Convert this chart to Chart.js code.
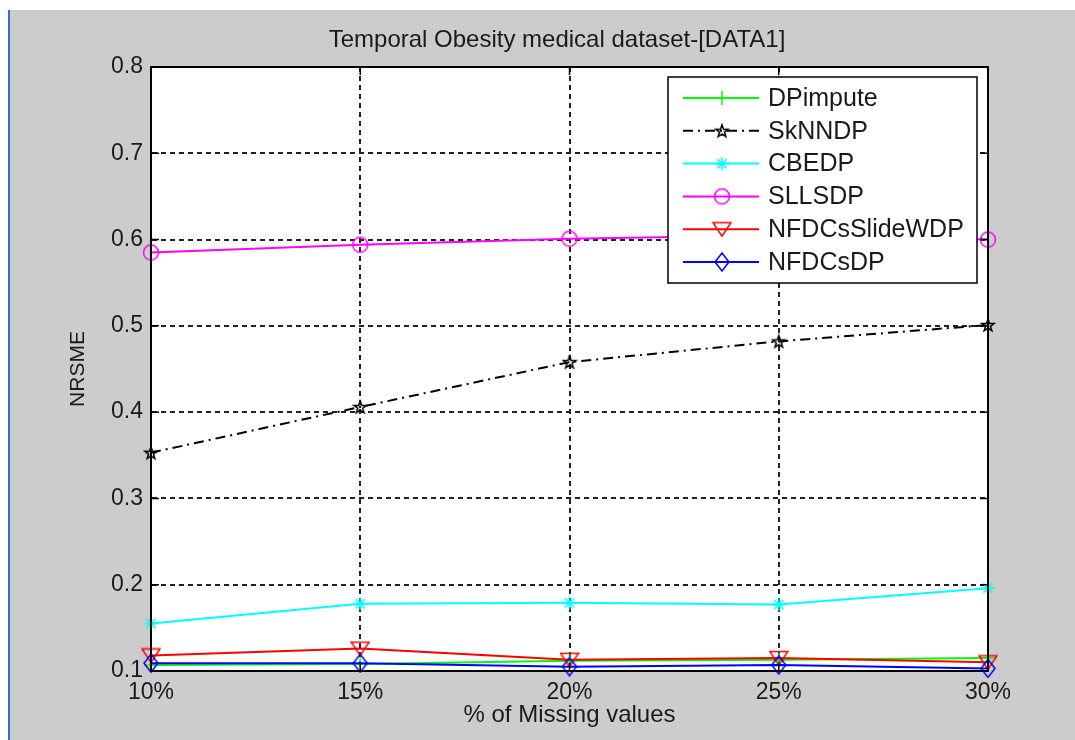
<!DOCTYPE html>
<html>
<head>
<meta charset="utf-8">
<script src="https://cdn.jsdelivr.net/npm/chart.js@4.4.0/dist/chart.umd.min.js"></script>
<style>
  html, body { margin: 0; padding: 0; background: #fff; }
  #wrap { width: 1075px; height: 740px; }
</style>
</head>
<body>
<div id="wrap"><canvas id="nrsme-chart" width="1075" height="740"></canvas></div>
<script>
// Values
const missingLabels = ['10%', '15%', '20%', '25%', '30%'];
const dpImpute      = [0.107, 0.108, 0.112, 0.113, 0.115];
const skNNDP        = [0.353, 0.406, 0.458, 0.482, 0.501];
const cbeDP         = [0.155, 0.178, 0.179, 0.177, 0.196];
const sllsDP        = [0.585, 0.594, 0.601, 0.605, 0.600];
const nfdcsSlideWDP = [0.118, 0.126, 0.113, 0.115, 0.110];
const nfdcsDP       = [0.109, 0.109, 0.105, 0.107, 0.103];
const yTickValues   = [0.1, 0.2, 0.3, 0.4, 0.5, 0.6, 0.7, 0.8];

const FONT = "'Liberation Sans', Arial, sans-serif";

// small canvases used as MATLAB-like markers
function makeMarker(w, h, color, draw) {
  const c = document.createElement('canvas');
  c.width = w;
  c.height = h;
  const g = c.getContext('2d');
  g.strokeStyle = color;
  g.lineWidth = 1.5;
  g.beginPath();
  draw(g, w, h);
  g.stroke();
  return c;
}

const plusMarker = makeMarker(16, 16, '#00ff00', (g) => {
  g.moveTo(8, 1); g.lineTo(8, 15);
  g.moveTo(1, 8); g.lineTo(15, 8);
});

const starMarker = makeMarker(16, 16, '#000000', (g) => {
  for (let i = 0; i < 10; i++) {
    const r = i % 2 === 0 ? 6.5 : 2.6;
    const a = -Math.PI / 2 + i * Math.PI / 5;
    const px = 8 + r * Math.cos(a), py = 8.5 + r * Math.sin(a);
    if (i === 0) g.moveTo(px, py); else g.lineTo(px, py);
  }
  g.closePath();
});

const asteriskMarker = makeMarker(16, 16, '#00ffff', (g) => {
  for (let i = 0; i < 4; i++) {
    const a = i * Math.PI / 4;
    g.moveTo(8 - 6.5 * Math.cos(a), 8 - 6.5 * Math.sin(a));
    g.lineTo(8 + 6.5 * Math.cos(a), 8 + 6.5 * Math.sin(a));
  }
});

const circleMarker = makeMarker(20, 20, '#ff00ff', (g) => {
  g.arc(10, 10, 7.5, 0, Math.PI * 2);
});

const triangleMarker = makeMarker(20, 16, '#ff0000', (g) => {
  g.moveTo(1, 1.5); g.lineTo(19, 1.5); g.lineTo(10, 15); g.closePath();
});

const diamondMarker = makeMarker(16, 20, '#0000ff', (g) => {
  g.moveTo(8, 1); g.lineTo(15, 10); g.lineTo(8, 19); g.lineTo(1, 10); g.closePath();
});

function series(label, data, color, marker, dash, order) {
  return {
    label: label,
    data: data,
    borderColor: color,
    backgroundColor: color,
    borderWidth: 2,
    borderDash: dash,
    pointStyle: marker,
    pointRadius: 8,
    pointHoverRadius: 8,
    tension: 0,
    fill: false,
    clip: false,
    order: order
  };
}

const datasets = [
  series('DPimpute', dpImpute, '#00ff00', plusMarker, [], 5),
  series('SkNNDP', skNNDP, '#000000', starMarker, [10, 5, 2, 5], 4),
  series('CBEDP', cbeDP, '#00ffff', asteriskMarker, [], 3),
  series('SLLSDP', sllsDP, '#ff00ff', circleMarker, [], 2),
  series('NFDCsSlideWDP', nfdcsSlideWDP, '#ff0000', triangleMarker, [], 1),
  series('NFDCsDP', nfdcsDP, '#0000ff', diamondMarker, [], 0)
];

// figure background, white axes face, title
const figureBackground = {
  id: 'figureBackground',
  beforeDraw(chart) {
    const ctx = chart.ctx;
    const a = chart.chartArea;
    ctx.save();
    ctx.fillStyle = '#ffffff';
    ctx.fillRect(0, 0, chart.width, chart.height);
    ctx.fillStyle = '#cccccc';
    ctx.fillRect(10, 10, chart.width - 10, chart.height - 10);
    ctx.fillStyle = '#2f72c8';
    ctx.fillRect(8, 10, 2, chart.height - 10);
    ctx.fillStyle = '#ffffff';
    ctx.fillRect(a.left, a.top, a.right - a.left, a.bottom - a.top);
    ctx.restore();
  },
  afterDraw(chart) {
    const ctx = chart.ctx;
    ctx.save();
    ctx.fillStyle = '#1a1a1a';
    ctx.font = '24px ' + FONT;
    ctx.textAlign = 'center';
    ctx.textBaseline = 'middle';
    ctx.fillText('Temporal Obesity medical dataset-[DATA1]', 557, 40);
    ctx.restore();
  }
};

// box around the axes plus inward tick marks on all four sides
const axesBox = {
  id: 'axesBox',
  afterDatasetsDraw(chart) {
    const ctx = chart.ctx;
    const a = chart.chartArea;
    const xs = chart.scales.x, ys = chart.scales.y;
    const len = 8;
    ctx.save();
    ctx.strokeStyle = '#000';
    ctx.lineWidth = 1.5;
    ctx.beginPath();
    xs.ticks.forEach((t, i) => {
      const px = xs.getPixelForTick(i);
      ctx.moveTo(px, a.bottom); ctx.lineTo(px, a.bottom - len);
      ctx.moveTo(px, a.top); ctx.lineTo(px, a.top + len);
    });
    ys.ticks.forEach((t, i) => {
      const py = ys.getPixelForTick(i);
      ctx.moveTo(a.left, py); ctx.lineTo(a.left + len, py);
      ctx.moveTo(a.right, py); ctx.lineTo(a.right - len, py);
    });
    ctx.stroke();
    ctx.lineWidth = 2;
    ctx.strokeRect(a.left, a.top, a.right - a.left, a.bottom - a.top);
    ctx.restore();
  }
};

// legend box inside the upper right of the axes
const insideLegend = {
  id: 'insideLegend',
  afterDraw(chart) {
    const ctx = chart.ctx;
    const a = chart.chartArea;
    const w = 309, h = 206;
    const left = a.right - 11 - w, top = a.top + 10;
    ctx.save();
    ctx.fillStyle = '#ffffff';
    ctx.fillRect(left, top, w, h);
    ctx.strokeStyle = '#000';
    ctx.lineWidth = 1.5;
    ctx.strokeRect(left, top, w, h);
    ctx.font = '25px ' + FONT;
    ctx.textBaseline = 'middle';
    ctx.textAlign = 'left';
    chart.data.datasets.forEach((ds, i) => {
      const y = top + 21 + i * 32.8;
      ctx.save();
      ctx.strokeStyle = ds.borderColor;
      ctx.lineWidth = 2;
      ctx.setLineDash(ds.borderDash || []);
      ctx.beginPath();
      ctx.moveTo(left + 15, y);
      ctx.lineTo(left + 91, y);
      ctx.stroke();
      ctx.restore();
      const m = ds.pointStyle;
      ctx.drawImage(m, left + 54 - m.width / 2, y - m.height / 2);
      ctx.fillStyle = '#1a1a1a';
      ctx.fillText(ds.label, left + 100, y + 1);
    });
    ctx.restore();
  }
};

new Chart(document.getElementById('nrsme-chart'), {
  type: 'line',
  data: {
    labels: missingLabels,
    datasets: datasets
  },
  options: {
    responsive: false,
    animation: false,
    events: [],
    layout: {
      padding: { top: 67, right: 87, bottom: 0, left: 0 }
    },
    plugins: {
      legend: { display: false },
      tooltip: { enabled: false },
      title: { display: false }
    },
    scales: {
      x: {
        offset: false,
        afterFit: (scale) => { scale.height = 69; },
        grid: {
          color: '#222',
          lineWidth: 2,
          drawTicks: false,
          offset: false
        },
        border: { display: true, color: '#000', width: 2, dash: [5, 4] },
        ticks: {
          color: '#1a1a1a',
          padding: 8,
          font: { family: FONT, size: 23 },
          maxRotation: 0
        },
        title: {
          display: true,
          text: '% of Missing values',
          color: '#1a1a1a',
          font: { family: FONT, size: 24 },
          padding: { top: 0, bottom: 10 }
        }
      },
      y: {
        min: 0.1,
        max: 0.8,
        afterFit: (scale) => { scale.width = 151; },
        afterBuildTicks: (scale) => {
          scale.ticks = yTickValues.map(v => ({ value: v }));
        },
        grid: {
          color: '#222',
          lineWidth: 2,
          drawTicks: false
        },
        border: { display: true, color: '#000', width: 2, dash: [5, 4] },
        ticks: {
          color: '#1a1a1a',
          padding: 8,
          font: { family: FONT, size: 23 },
          callback: (v) => Number(v).toFixed(1)
        },
        title: {
          display: true,
          text: 'NRSME',
          color: '#1a1a1a',
          font: { family: FONT, size: 21 },
          padding: { top: 66, bottom: 0 }
        }
      }
    }
  },
  plugins: [figureBackground, axesBox, insideLegend]
});
</script>
</body>
</html>
